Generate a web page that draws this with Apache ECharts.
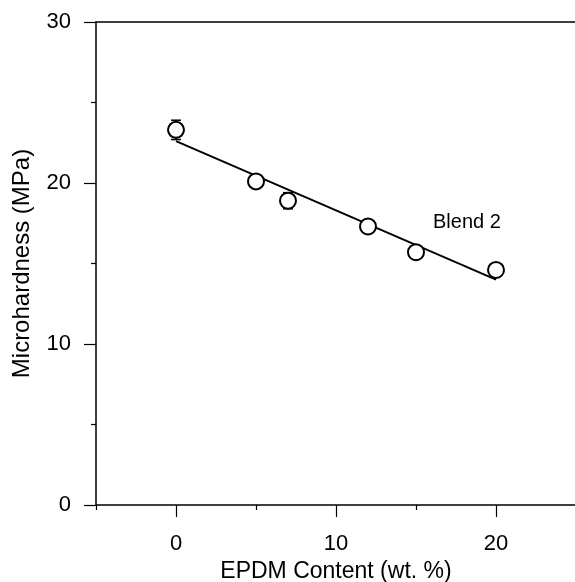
<!DOCTYPE html>
<html>
<head>
<meta charset="utf-8">
<script src="https://cdn.jsdelivr.net/npm/echarts@6/dist/echarts.min.js"></script>
<style>
html,body{margin:0;padding:0;background:#fff;}
#chart{width:575px;height:582px;}
</style>
</head>
<body>
<div id="chart"></div>
<script>
// Data
const epdm = [0, 5, 7, 12, 15, 20];
const hardness = [23.3, 20.1, 18.9, 17.3, 15.7, 14.6];
const errors = [0.6, 0.3, 0.5, 0.3, 0.3, 0.3];
const fitX = [0, 20];
const fitY = [22.6, 14.0];
const xMajorTicks = [0, 10, 20];
const xMinorTicks = [-5, 5, 15, 25];
const seriesLabel = 'Blend 2';

const FONT = '"Liberation Sans", Arial, sans-serif';
const chart = echarts.init(document.getElementById('chart'), null, {renderer: 'canvas'});

const pts = epdm.map((x, i) => [x, hardness[i]]);
const errData = epdm.map((x, i) => [x, hardness[i], errors[i]]);
const fitData = fitX.map((x, i) => [x, fitY[i]]);

const option = {
  backgroundColor: '#fff',
  animation: false,
  grid: {left: 96, top: 22, right: -1, bottom: 77, containLabel: false, outerBoundsMode: 'none'},
  xAxis: [
    {
      type: 'value', min: -5, max: 25, interval: 5, position: 'bottom',
      name: 'EPDM Content (wt. %)', nameLocation: 'middle', nameGap: 53,
      nameTextStyle: {fontFamily: FONT, fontSize: 23, color: '#000'},
      axisLine: {show: true, onZero: false, lineStyle: {color: '#000', width: 1.5}},
      axisTick: {show: true, customValues: xMajorTicks, length: 12, lineStyle: {color: '#000', width: 1.2}},
      axisLabel: {show: true, customValues: xMajorTicks, margin: 28, fontFamily: FONT, fontSize: 22, color: '#000'},
      splitLine: {show: false}
    },
    {
      type: 'value', min: -5, max: 25, interval: 5, position: 'bottom', gridIndex: 0,
      axisLine: {show: false, onZero: false},
      axisTick: {show: true, customValues: xMinorTicks, length: 5, lineStyle: {color: '#000', width: 1.2}},
      axisLabel: {show: false},
      splitLine: {show: false}
    },
    {
      type: 'value', min: -5, max: 25, interval: 5, position: 'top', gridIndex: 0,
      axisLine: {show: true, onZero: false, lineStyle: {color: '#000', width: 1.5}},
      axisTick: {show: false},
      axisLabel: {show: false},
      splitLine: {show: false}
    }
  ],
  yAxis: {
    type: 'value', min: 0, max: 30, interval: 10,
    name: 'Microhardness (MPa)', nameLocation: 'middle', nameGap: 62,
    nameTextStyle: {fontFamily: FONT, fontSize: 24, color: '#000'},
    axisLine: {show: true, onZero: false, lineStyle: {color: '#000', width: 1.5}},
    axisTick: {show: true, length: 12, lineStyle: {color: '#000', width: 1.2}},
    minorTick: {show: true, splitNumber: 2, length: 5, lineStyle: {color: '#000', width: 1.2}},
    axisLabel: {margin: 25, fontFamily: FONT, fontSize: 22, color: '#000'},
    splitLine: {show: false}
  },
  series: [
    {
      type: 'line', data: fitData, symbol: 'none', z: 2,
      lineStyle: {color: '#000', width: 2}
    },
    {
      type: 'custom', data: errData, z: 3,
      renderItem: function (params, api) {
        const x = api.value(0), y = api.value(1), e = api.value(2);
        const top = api.coord([x, y + e]);
        const bot = api.coord([x, y - e]);
        const hw = 5;
        const style = {stroke: '#000', lineWidth: 1.5};
        return {
          type: 'group',
          children: [
            {type: 'line', shape: {x1: top[0], y1: top[1], x2: bot[0], y2: bot[1]}, style: style},
            {type: 'line', shape: {x1: top[0] - hw, y1: top[1], x2: top[0] + hw, y2: top[1]}, style: style},
            {type: 'line', shape: {x1: bot[0] - hw, y1: bot[1], x2: bot[0] + hw, y2: bot[1]}, style: style}
          ]
        };
      }
    },
    {
      type: 'scatter', data: pts, symbol: 'circle', symbolSize: 16, z: 4,
      itemStyle: {color: '#fff', borderColor: '#000', borderWidth: 2, opacity: 1}
    }
  ],
  graphic: [
    {type: 'text', left: 433, top: 212,
     style: {text: seriesLabel, font: '20px ' + FONT, fill: '#000'}}
  ]
};
chart.setOption(option);
</script>
</body>
</html>
